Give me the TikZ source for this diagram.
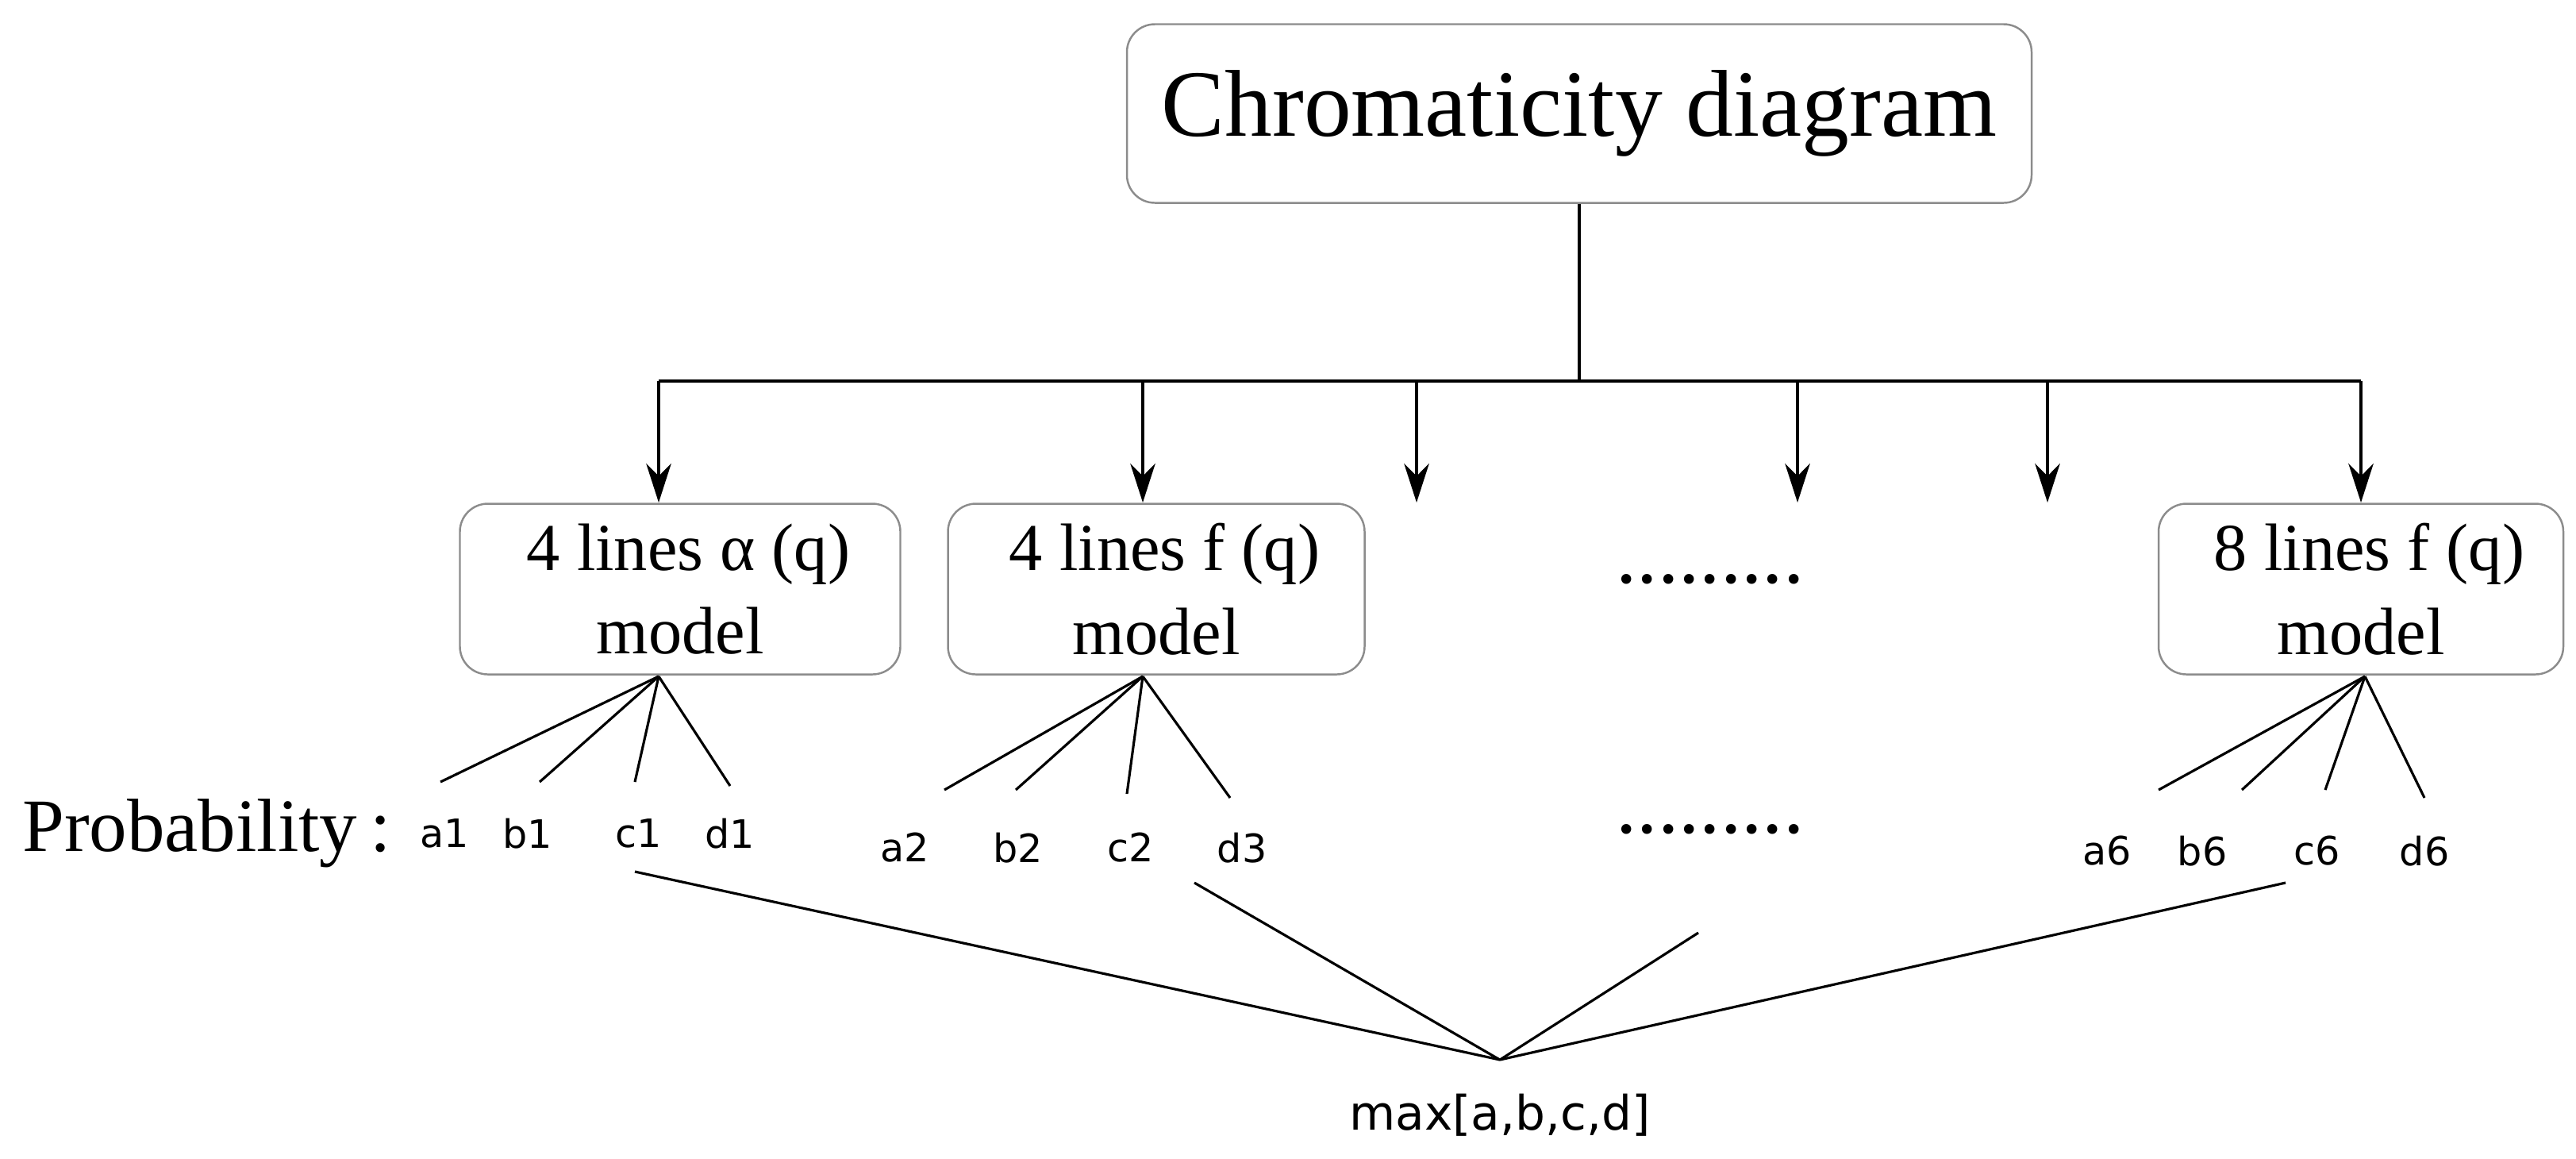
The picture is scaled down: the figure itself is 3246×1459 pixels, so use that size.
\documentclass[tikz,border=0pt]{standalone}
\usepackage{fontspec}
\setmainfont{Liberation Serif}
\newfontfamily\lab{DejaVu Sans}
\usetikzlibrary{arrows.meta}
\begin{document}
\begin{tikzpicture}[x=0.01cm,y=-0.01cm,line width=0.9pt,
  box/.style={draw=black!45,rounded corners=10pt,line width=0.7pt,align=center},
  arr/.style={-{Stealth[length=14pt,width=9pt]}},
  lb/.style={font=\lab\fontsize{14}{16}\selectfont,inner sep=1pt}]
\useasboundingbox (0,0) rectangle (3246,1459);
\node[box,minimum width=1140*0.01cm,minimum height=225*0.01cm,font=\fontsize{34}{38}\selectfont] (top) at (1990,143) {Chromaticity diagram};
\node[box,minimum width=555*0.01cm,minimum height=215*0.01cm,font=\fontsize{24}{30}\selectfont] (m1) at (857,742) {\ 4 lines α (q)\\model};
\node[box,minimum width=525*0.01cm,minimum height=215*0.01cm,font=\fontsize{24}{30}\selectfont] (m2) at (1457,742) {\ 4 lines f (q)\\model};
\node[box,minimum width=510*0.01cm,minimum height=215*0.01cm,font=\fontsize{24}{30}\selectfont] (m3) at (2975,742) {\ 8 lines f (q)\\model};
\node[font=\fontsize{30}{34}\selectfont] (d1) at (2155,730) {.........};
\node[font=\fontsize{30}{34}\selectfont] (d2) at (2155,1045) {.........};
\coordinate (j) at (1990,480);
\draw (top.south) -- (j);
\draw (830,480) -- (2975,480);
\foreach \x/\n in {830/a,1440/b,1785/c,2265/d,2580/e,2975/f}{
  \coordinate (s\n) at (\x,480); \coordinate (t\n) at (\x,633);
  \draw[arr] (s\n) -- (t\n);}
\node[anchor=west,font=\fontsize{27}{32}\selectfont] (prob) at (15,1050) {Probability\,:};
% labels
\foreach \n/\t/\x/\y in {a1/a1/560/1050,b1/b1/665/1050,c1/c1/805/1050,dd1/d1/920/1050,
  a2/a2/1140/1068,b2/b2/1283/1068,c2/c2/1425/1068,d3/d3/1565/1068,
  a6/a6/2655/1072,b6/b6/2775/1072,c6/c6/2920/1072,d6/d6/3055/1072}
  \node[lb] (\n) at (\x,\y) {\t};
\coordinate (p1) at (830,852);\coordinate (p2) at (1440,852);\coordinate (p3) at (2980,852);
\draw (p1) -- (555,985); \draw (p1) -- (680,985); \draw (p1) -- (800,985); \draw (p1) -- (920,990);
\draw (p2) -- (1190,995); \draw (p2) -- (1280,995); \draw (p2) -- (1420,1000); \draw (p2) -- (1550,1005);
\draw (p3) -- (2720,995); \draw (p3) -- (2825,995); \draw (p3) -- (2930,995); \draw (p3) -- (3055,1005);
\coordinate (apex) at (1890,1335);
\node[font=\lab\fontsize{17}{20}\selectfont] (max) at (1890,1405) {max[a,b,c,d]};
\coordinate (q1) at (800,1098);\coordinate (q2) at (1505,1112);\coordinate (q3) at (2140,1175);\coordinate (q4) at (2880,1112);
\foreach \q in {q1,q2,q3,q4} \draw (apex) -- (\q);
\end{tikzpicture}
\end{document}
